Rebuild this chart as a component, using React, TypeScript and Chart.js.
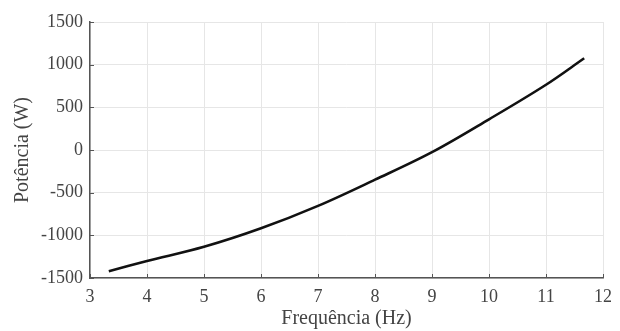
import React, { useEffect, useRef } from "react";
import { Chart, registerables } from "chart.js";

Chart.register(...registerables);

const frequencia = [3.33, 4, 5, 6, 7, 8, 9, 10, 11, 11.67];
const potencia = [-1420, -1302, -1135, -918, -655, -348, -25, 360, 765, 1075];
const xTicks = [3, 4, 5, 6, 7, 8, 9, 10, 11, 12];
const yTicks = [-1500, -1000, -500, 0, 500, 1000, 1500];

const FONT = "'Liberation Serif', 'Times New Roman', serif";

const innerTicks = {
  id: "innerTicks",
  afterDatasetsDraw(chart: any) {
    const { ctx, chartArea, scales } = chart;
    ctx.save();
    ctx.strokeStyle = "#555";
    ctx.lineWidth = 1;
    const xs = scales.x;
    xs.ticks.forEach((_: any, i: number) => {
      const px = Math.round(xs.getPixelForTick(i)) + 0.5;
      ctx.beginPath();
      ctx.moveTo(px, chartArea.bottom);
      ctx.lineTo(px, chartArea.bottom - 4);
      ctx.stroke();
    });
    const ys = scales.y;
    ys.ticks.forEach((_: any, i: number) => {
      const py = Math.round(ys.getPixelForTick(i)) + 0.5;
      ctx.beginPath();
      ctx.moveTo(chartArea.left, py);
      ctx.lineTo(chartArea.left + 4, py);
      ctx.stroke();
    });
    ctx.restore();
  },
};

export default function App() {
  const ref = useRef<HTMLCanvasElement>(null);
  useEffect(() => {
    document.body.style.margin = "0";
    const chart = new Chart(ref.current!, {
      type: "line",
      data: {
        datasets: [
          {
            data: frequencia.map((x, i) => ({ x, y: potencia[i] })),
            borderColor: "#111",
            borderWidth: 2.6,
            pointRadius: 0,
            tension: 0.35,
            fill: false,
          },
        ],
      },
      options: {
        animation: false,
        responsive: false,
        maintainAspectRatio: false,
        layout: { padding: { top: 22, right: 17, left: 0, bottom: 0 } },
        plugins: { legend: { display: false }, tooltip: { enabled: false } },
        scales: {
          x: {
            type: "linear",
            min: 3,
            max: 12,
            afterBuildTicks: (s: any) => {
              s.ticks = xTicks.map((v) => ({ value: v }));
            },
            afterFit: (s: any) => {
              s.height = 53;
            },
            grid: { color: "#e6e6e6", drawTicks: false, lineWidth: 1 },
            border: { color: "#555", width: 1.5 },
            ticks: {
              color: "#444",
              padding: 8,
              font: { family: FONT, size: 18 },
              maxRotation: 0,
            },
            title: {
              display: true,
              text: "Frequência (Hz)",
              color: "#444",
              font: { family: FONT, size: 20 },
              padding: { top: 0, bottom: 0 },
            },
          },
          y: {
            type: "linear",
            min: -1500,
            max: 1500,
            afterBuildTicks: (s: any) => {
              s.ticks = yTicks.map((v) => ({ value: v }));
            },
            afterFit: (s: any) => {
              s.width = 90;
            },
            grid: { color: "#e6e6e6", drawTicks: false, lineWidth: 1 },
            border: { color: "#555", width: 1.5 },
            ticks: {
              color: "#444",
              padding: 7,
              font: { family: FONT, size: 18 },
              callback: (v: any) => String(v),
            },
            title: {
              display: true,
              text: "Potência (W)",
              color: "#444",
              font: { family: FONT, size: 20 },
              padding: { top: 11, bottom: 0 },
            },
          },
        },
      },
      plugins: [innerTicks],
    });
    return () => chart.destroy();
  }, []);
  return (
    <div style={{ width: 620, height: 331 }}>
      <canvas ref={ref} width={620} height={331} style={{ display: "block" }} />
    </div>
  );
}
